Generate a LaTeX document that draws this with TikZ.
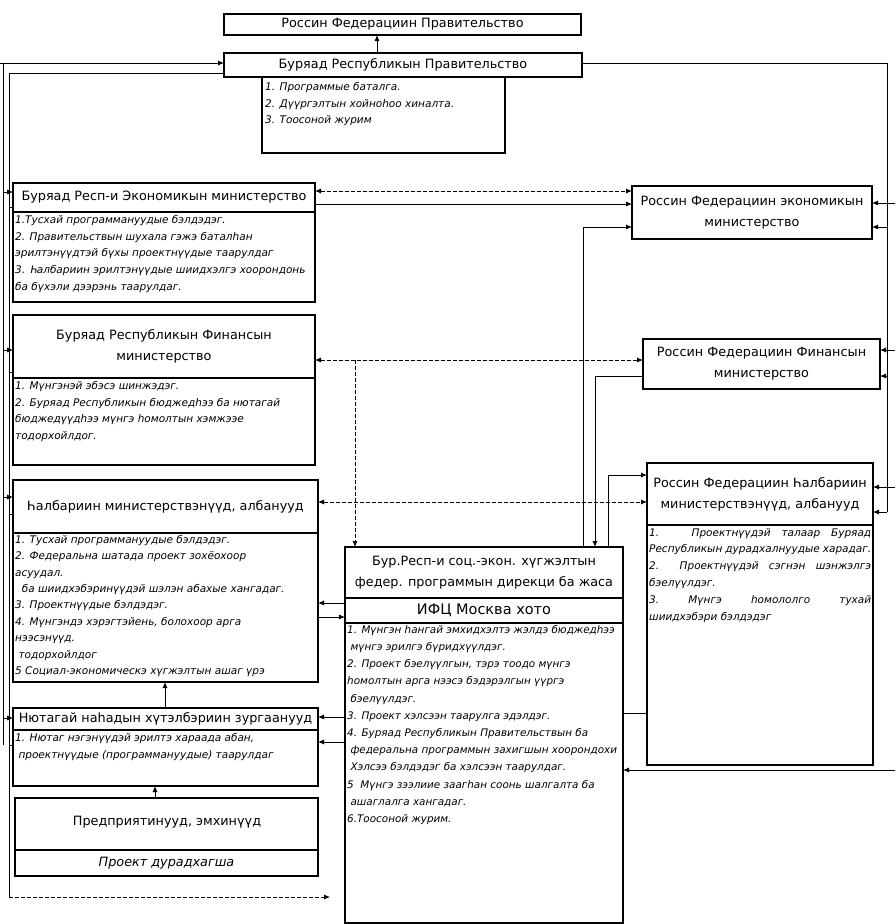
\documentclass[tikz,border=0pt]{standalone}
\usepackage{fontspec}
\setmainfont{DejaVu Sans}
\usetikzlibrary{arrows.meta}
\tikzset{
 box/.style={draw, line width=1.1pt, inner sep=0pt, outer sep=0pt, anchor=north west},
 ttl/.style={font=\fontsize{12.8}{21}\selectfont, align=center, inner sep=0pt},
 lst/.style={font=\fontsize{10.5}{16.8}\selectfont\itshape, align=left, inner sep=0pt, anchor=north west},
 arr/.style={-{Latex[length=6pt,width=5pt]}, line width=0.9pt},
 ln/.style={line width=0.9pt},
 dsh/.style={line width=0.8pt, dash pattern=on 4pt off 2pt},
 darr/.style={{Latex[length=6pt,width=5pt]}-{Latex[length=6pt,width=5pt]}, line width=0.8pt, dash pattern=on 4pt off 2pt},
}
\begin{document}
\begin{tikzpicture}[x=1pt,y=-1pt]
\useasboundingbox (0,0) rectangle (895,924);
\fill[white] (0,0) rectangle (895,924);

% ---------- top ----------
\node[box, minimum width=357pt, minimum height=21pt] (rfg) at (224,14) {};
\node[ttl] (rfgt) at (rfg.center) {Россин Федерациин Правительство};
\node[box, minimum width=358pt, minimum height=24pt] (bg) at (224,53) {};
\node[ttl] (bgt) at (bg.center) {Буряад Республикын Правительство};
\node[box, minimum width=243pt, minimum height=76pt] (bgl) at (262,77) {};
\node[lst] (bglt) at (265,82) {1. Программые баталга.\\2. Дүүргэлтын хойноһоо хиналта.\\3. Тоосоной журим};

% ---------- left column ----------
\node[box, minimum width=302pt, minimum height=29pt] (econT) at (13,183) {};
\node[ttl] (econTt) at (econT.center) {Буряад Респ-и Экономикын министерство};
\node[box, minimum width=302pt, minimum height=90pt] (econL) at (13,212) {};
\node[lst] (econLt) at (15,215) {1.Тусхай программануудые бэлдэдэг.\\
2. Правительствын шухала гэжэ баталһан\\
эрилтэнүүдтэй бүхы проектнүүдые таарулдаг\\
3. Һалбариин эрилтэнүүдые шиидхэлгэ хоорондонь\\
ба бүхэли дээрэнь таарулдаг.};

\node[box, minimum width=302pt, minimum height=63pt] (finT) at (13,315) {};
\node[ttl] (finTt) at (finT.center) {Буряад Республикын Финансын\\министерство};
\node[box, minimum width=302pt, minimum height=87pt] (finL) at (13,378) {};
\node[lst] (finLt) at (15,381) {1. Мүнгэнэй эбэсэ шинжэдэг.\\
2. Буряад Республикын бюджедһээ ба нютагай\\
бюджедүүдһээ мүнгэ һомолтын хэмжээе\\
тодорхойлдог.};

\node[box, minimum width=305pt, minimum height=53pt] (halbT) at (13,480) {};
\node[ttl] (halbTt) at (halbT.center) {Һалбариин министерствэнүүд, албанууд};
\node[box, minimum width=305pt, minimum height=149pt] (halbL) at (13,533) {};
\node[lst, font=\fontsize{10.5}{16.4}\selectfont\itshape] (halbLt) at (15,535) {1. Тусхай программануудые бэлдэдэг.\\
2. Федеральна шатада проект зохёохоор\\
асуудал.\\
\ \ ба шиидхэбэринүүдэй шэлэн абахые хангадаг.\\
3. Проектнүүдые бэлдэдэг.\\
4. Мүнгэндэ хэрэгтэйень, болохоор арга\\
нээсэнүүд.\\
\ тодорхойлдог\\
5 Социал-экономическэ хүгжэлтын ашаг үрэ};

\node[box, minimum width=305pt, minimum height=22pt] (nutT) at (13,708) {};
\node[ttl] (nutTt) at (nutT.center) {Нютагай наһадын хүтэлбэриин зургаанууд};
\node[box, minimum width=305pt, minimum height=56pt] (nutL) at (13,730) {};
\node[lst] (nutLt) at (15,733) {1. Нютаг нэгэнүүдэй эрилтэ хараада абан,\\
\ проектнүүдые (программануудые) таарулдаг};

\node[box, minimum width=303pt, minimum height=52pt] (predT) at (15,798) {};
\node[ttl] (predTt) at (167,822) {Предприятинууд, эмхинүүд};
\node[box, minimum width=303pt, minimum height=26pt] (predL) at (15,850) {};
\node[ttl, font=\fontsize{12.8}{16}\selectfont\itshape] (predLt) at (predL.center) {Проект дурадхагша};

% ---------- centre ----------
\node[box, minimum width=278pt, minimum height=51pt] (dirT) at (345,547) {};
\node[ttl] (dirTt) at (dirT.center) {Бур.Респ-и соц.-экон. хүгжэлтын\\федер. программын дирекци ба жаса};
\node[box, minimum width=278pt, minimum height=25pt] (ifc) at (345,598) {};
\node[ttl, font=\fontsize{14.5}{16}\selectfont] (ifct) at (ifc.center) {ИФЦ Москва хото};
\node[box, minimum width=278pt, minimum height=300pt] (dirL) at (345,623) {};
\node[lst, font=\fontsize{10.4}{17.2}\selectfont\itshape] (dirLt) at (347,625) {1. Мүнгэн һангай эмхидхэлтэ жэлдэ бюджедһээ\\
\ мүнгэ эрилгэ бүридхүүлдэг.\\
2. Проект бэелүүлгын, тэрэ тоодо мүнгэ\\
һомолтын арга нээсэ бэдэрэлгын үүргэ\\
\ бэелүүлдэг.\\
3. Проект хэлсээн таарулга эдэлдэг.\\
4. Буряад Республикын Правительствын ба\\
\ федеральна программын захигшын хоорондохи\\
\ Хэлсээ бэлдэдэг ба хэлсээн таарулдаг.\\
5\ \ Мүнгэ зээлиие заагһан соонь шалгалта ба\\
\ ашаглалга хангадаг.\\
6.Тоосоной журим.};

% ---------- right column ----------
\node[box, minimum width=240pt, minimum height=53pt] (r1) at (632,186) {};
\node[ttl] (r1t) at (r1.center) {Россин Федерациин экономикын\\министерство};
\node[box, minimum width=237pt, minimum height=50pt] (r2) at (643,339) {};
\node[ttl] (r2t) at (r2.center) {Россин Федерациин Финансын\\министерство};
\node[box, minimum width=226pt, minimum height=62pt] (r3T) at (647,463) {};
\node[ttl] (r3Tt) at (r3T.center) {Россин Федерациин Һалбариин\\министерствэнүүд, албанууд};
\node[box, minimum width=226pt, minimum height=240pt] (r3L) at (647,525) {};
\node[lst] (r3Lt) at (649,528) {\makebox[222pt][s]{1.\ \ \ Проектнүүдэй талаар Буряад}\\
\makebox[222pt][s]{Республикын дурадхалнуудые харадаг.}\\
\makebox[222pt][s]{2.\ \ Проектнүүдэй сэгнэн шэнжэлгэ}\\
бэелүүлдэг.\\
\makebox[222pt][s]{3.\ \ \ \ Мүнгэ\ \ \ \ һомололго\ \ \ \ тухай}\\
шиидхэбэри бэлдэдэг};

% ---------- bus coordinates ----------
\coordinate (lin) at (0,63);
\coordinate (la) at (3,63);
\coordinate (lb) at (3,745);
\coordinate (bA) at (9,73);
\coordinate (bB) at (9,897);
\coordinate (bC) at (330,897);
\coordinate (ra) at (887,63);
\coordinate (rb) at (887,512);
\coordinate (rx1) at (895,203);
\coordinate (rx2) at (895,350);
\coordinate (rx3) at (895,487);
\coordinate (rx4) at (895,770);

% top
\draw[arr] (bg.north -| 377,0) -- (rfg.south -| 377,0);
\draw[arr] (lin) -- (bg.west |- lin);
\draw[ln] (la) -- (lb);
\draw[ln] (bg.west |- bA) -- (bA) -- (bB);
\draw[arr, dsh] (bB) -- (bC);
\draw[ln] (bg.east |- ra) -- (ra) -- (rb);

% left boxes from / to buses
\draw[arr] (la |- 0,192) -- (econT.west |- 0,192);
\draw[ln] (econT.west |- 0,207) -- (bA |- 0,207);
\draw[arr] (la |- 0,350) -- (finT.west |- 0,350);
\draw[ln] (finT.west |- 0,372) -- (bA |- 0,372);
\draw[arr] (la |- 0,497) -- (halbT.west |- 0,497);
\draw[ln] (halbT.west |- 0,514) -- (bA |- 0,514);
\draw[arr] (la |- 0,718) -- (nutT.west |- 0,718);
\draw[ln] (nutL.west |- 0,745) -- (bA |- 0,745);

% right boxes from buses
\draw[arr] (rx1) -- (r1.east |- rx1);
\draw[arr] (ra |- 0,227) -- (r1.east |- 0,227);
\draw[arr] (rx2) -- (r2.east |- rx2);
\draw[arr] (ra |- 0,376) -- (r2.east |- 0,376);
\draw[arr] (rx3) -- (r3T.east |- rx3);
\draw[arr] (rb) -- (r3T.east |- rb);
\draw[arr] (rx4) -- (dirL.east |- rx4);

% left <-> right
\draw[darr] (econT.east |- 0,191) -- (r1.west |- 0,191);
\draw[arr] (econT.east |- 0,204) -- (r1.west |- 0,204);
\draw[darr] (finT.east |- 0,360) -- (r2.west |- 0,360);
\draw[darr] (halbT.east |- 0,502) -- (r3T.west |- 0,502);
\draw[arr, dsh] (355,360) -- (dirT.north -| 355,0);

% directorate <-> federal ministries
\draw[arr] (dirT.north -| 583,0) -- (583,227) -- (r1.west |- 0,227);
\draw[arr] (r2.west |- 0,376) -- (595,376) -- (dirT.north -| 595,0);
\draw[arr] (dirT.north -| 608,0) -- (608,475) -- (r3T.west |- 0,475);
\draw[ln] (dirL.east |- 0,713) -- (r3L.west |- 0,713);

% directorate <-> left boxes
\draw[arr] (ifc.west |- 0,603) -- (halbL.east |- 0,603);
\draw[arr] (halbL.east |- 0,617) -- (ifc.west |- 0,617);
\draw[arr] (dirL.west |- 0,717) -- (nutT.east |- 0,717);
\draw[arr] (dirL.west |- 0,742) -- (nutL.east |- 0,742);

% vertical links on the left
\draw[arr] (nutT.north -| 165,0) -- (halbL.south -| 165,0);
\draw[arr] (predT.north -| 155,0) -- (nutL.south -| 155,0);
\end{tikzpicture}
\end{document}
